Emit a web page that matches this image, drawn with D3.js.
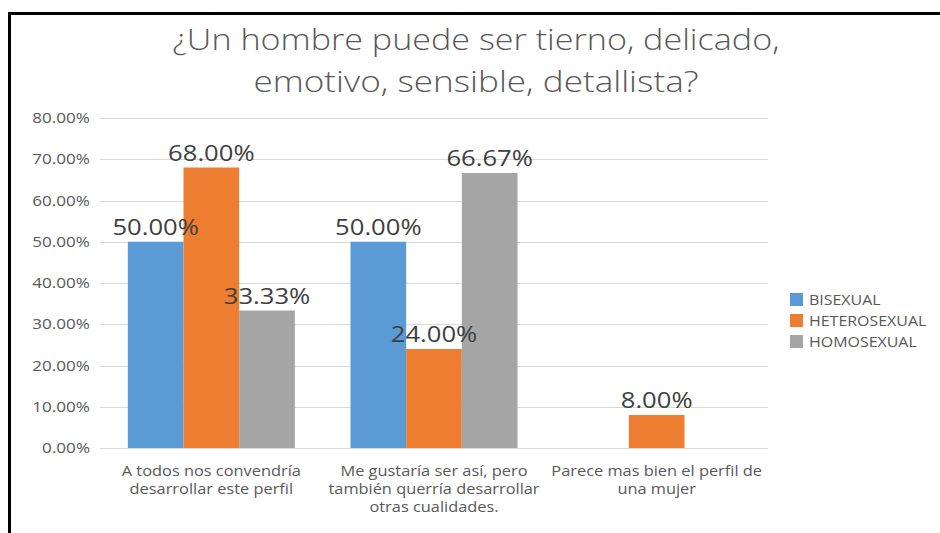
<!DOCTYPE html>
<html>
<head>
<meta charset="utf-8">
<script src="https://cdn.jsdelivr.net/npm/d3@7"></script>
<style>
  html, body { margin: 0; padding: 0; background: #fff; }
  svg { display: block; }
  text { font-family: 'Open Sans', sans-serif; }
</style>
</head>
<body>
<div id="chart"></div>
<script>
// datos
const titleLines = ['¿Un hombre puede ser tierno, delicado,', 'emotivo, sensible, detallista?']
const categories = [
  'A todos nos convendría\ndesarrollar este perfil',
  'Me gustaría ser así, pero\ntambién querría desarrollar\notras cualidades.',
  'Parece mas bien el perfil de\nuna mujer'
]
const seriesNames = ['BISEXUAL', 'HETEROSEXUAL', 'HOMOSEXUAL']
const bisexual = [0.50, 0.50, null]
const heterosexual = [0.68, 0.24, 0.08]
const homosexual = [0.3333, 0.6667, null]
const yTicks = [0, 0.1, 0.2, 0.3, 0.4, 0.5, 0.6, 0.7, 0.8]
const colors = ['#5b9bd5', '#ed7d31', '#a5a5a5']

const width = 940
const height = 533
const margin = { left: 100, right: 172, top: 118, bottom: 85 }
const sx = 1.22 // el original está estirado a lo ancho

const svg = d3.select('#chart').append('svg')
  .attr('width', width)
  .attr('height', height)

// marco negro
svg.append('rect')
  .attr('x', 9.5).attr('y', 13.5)
  .attr('width', 945).attr('height', 540)
  .attr('fill', 'none')
  .attr('stroke', '#000')
  .attr('stroke-width', 3)

// título
svg.selectAll('.title').data(titleLines).enter().append('text')
  .attr('class', 'title')
  .attr('x', 476)
  .attr('y', (d, i) => 50 + i * 42)
  .attr('text-anchor', 'middle')
  .attr('fill', '#595959')
  .attr('font-size', 29)
  .attr('font-weight', 300)
  .attr('textLength', (d, i) => i === 0 ? 607 : 445)
  .attr('lengthAdjust', 'spacingAndGlyphs')
  .text(d => d)

const y = d3.scaleLinear()
  .domain([0, 0.8])
  .range([height - margin.bottom, margin.top])

const x0 = d3.scaleBand()
  .domain(categories)
  .range([margin.left, width - margin.right])

const x1 = d3.scaleBand()
  .domain(seriesNames)
  .range([x0.bandwidth() * 0.125, x0.bandwidth() * 0.875])

// cuadrícula
svg.append('g')
  .selectAll('line').data(yTicks).enter().append('line')
  .attr('x1', margin.left)
  .attr('x2', width - margin.right)
  .attr('y1', d => Math.round(y(d)) + 0.5)
  .attr('y2', d => Math.round(y(d)) + 0.5)
  .attr('stroke', '#d9d9d9')
  .attr('stroke-width', 1)

// etiquetas eje y
const fmt = d3.format('.2%')
svg.append('g')
  .selectAll('text').data(yTicks).enter().append('text')
  .attr('transform', d => `translate(90,${y(d) + 5}) scale(${sx},1)`)
  .attr('text-anchor', 'end')
  .attr('fill', '#595959')
  .attr('font-size', 14)
  .text(d => fmt(d))

const seriesData = [bisexual, heterosexual, homosexual]
const bars = []
seriesData.forEach((vals, s) => {
  vals.forEach((v, c) => {
    if (v !== null) bars.push({ series: seriesNames[s], cat: categories[c], value: v, color: colors[s] })
  })
})

// barras
svg.append('g')
  .selectAll('rect').data(bars).enter().append('rect')
  .attr('x', d => x0(d.cat) + x1(d.series))
  .attr('y', d => y(d.value))
  .attr('width', x1.bandwidth())
  .attr('height', d => y(0) - y(d.value))
  .attr('fill', d => d.color)

// etiquetas de datos
svg.append('g')
  .selectAll('text').data(bars).enter().append('text')
  .attr('transform', d => `translate(${x0(d.cat) + x1(d.series) + x1.bandwidth() / 2},${y(d.value) - 7}) scale(${sx},1)`)
  .attr('text-anchor', 'middle')
  .attr('fill', '#404040')
  .attr('font-size', 21)
  .text(d => fmt(d.value))

// categorías
const catG = svg.append('g')
  .selectAll('g').data(categories).enter().append('g')
  .attr('transform', d => `translate(${x0(d) + x0.bandwidth() / 2},0)`)
catG.selectAll('text').data(d => d.split('\n')).enter().append('text')
  .attr('transform', (d, i) => `translate(0,${476 + i * 18}) scale(1.17,1)`)
  .attr('text-anchor', 'middle')
  .attr('fill', '#595959')
  .attr('font-size', 14)
  .text(d => d)

// leyenda
const legend = svg.append('g')
  .selectAll('g').data(seriesNames).enter().append('g')
  .attr('transform', (d, i) => `translate(790,${293 + i * 21})`)
legend.append('rect')
  .attr('width', 13).attr('height', 13)
  .attr('fill', (d, i) => colors[i])
legend.append('text')
  .attr('transform', 'translate(19,11.5) scale(1.14,1)')
  .attr('fill', '#595959')
  .attr('font-size', 14)
  .text(d => d)
</script>
</body>
</html>
